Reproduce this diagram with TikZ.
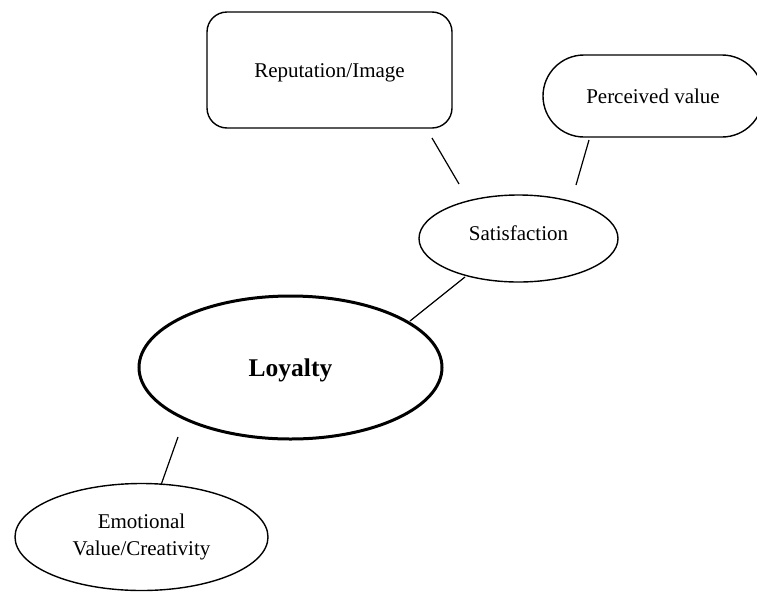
\documentclass[tikz,border=0pt]{standalone}
\usepackage{fontspec}
\setmainfont{Liberation Serif}
\usetikzlibrary{shapes.geometric}
\begin{document}
\begin{tikzpicture}[x=1pt,y=-1pt,
  txt/.style={font=\fontsize{21}{27}\selectfont, align=center},
  shapeline/.style={draw=black, line width=1.4pt, inner sep=0pt},
  oval/.style={shapeline, ellipse},
  conn/.style={draw=black, line width=1.2pt}]
\useasboundingbox (0,0) rectangle (757,592);
\node[shapeline, rectangle, rounded corners=20pt, minimum width=245pt, minimum height=116pt, label={[txt, yshift=-3pt]center:Reputation/Image}] (rep) at (329.5,70) {};
\node[shapeline, rectangle, rounded corners=41pt, minimum width=220pt, minimum height=82pt, txt] (per) at (653,96) {Perceived value};
\node[oval, minimum width=199pt, minimum height=87pt, label={[txt, yshift=5pt]center:Satisfaction}] (sat) at (518.5,238.5) {};
\node[oval, line width=3pt, minimum width=303pt, minimum height=143pt, label={[font=\bfseries\fontsize{25.5}{30}\selectfont, yshift=-3pt]center:Loyalty}] (loy) at (290.5,367.5) {};
\node[oval, minimum width=253pt, minimum height=107pt, txt] (emo) at (141.5,537) {Emotional\\Value/Creativity};
\coordinate (repA) at (432,138);
\coordinate (repB) at (459,184);
\coordinate (perA) at (589,140);
\coordinate (perB) at (576,185);
\coordinate (satA) at (465,277);
\coordinate (satB) at (410,321);
\coordinate (loyA) at (178,437);
\coordinate (loyB) at (161,485);
\draw[conn] (repA) -- (repB);
\draw[conn] (perA) -- (perB);
\draw[conn] (satA) -- (satB);
\draw[conn] (loyA) -- (loyB);
\end{tikzpicture}
\end{document}
